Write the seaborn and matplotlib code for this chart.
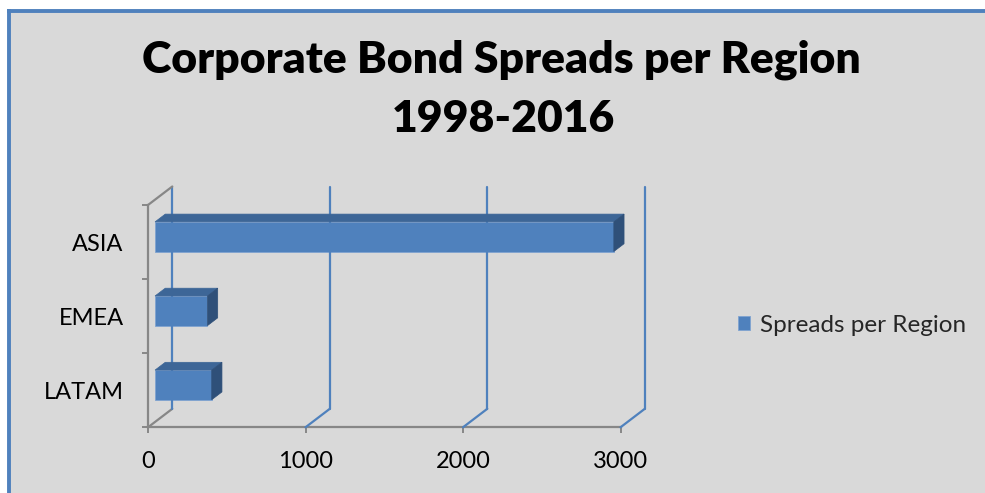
import numpy as np
import pandas as pd
import seaborn as sns
import matplotlib
matplotlib.use("Agg")
import matplotlib.pyplot as plt
from matplotlib.patches import Polygon
from matplotlib.lines import Line2D
from matplotlib.transforms import IdentityTransform, ScaledTranslation

# ---- data ----
regions = ["ASIA", "EMEA", "LATAM"]
spreads = [2913, 333, 360]
series_name = "Spreads per Region"
x_ticks = [0, 1000, 2000, 3000]
title_lines = ["Corporate Bond Spreads per Region", "1998-2016"]

# ---- style ----
BG = "#D9D9D9"
FRONT = "#4F81BD"
TOP = "#3D6697"
SIDE = "#2F5079"
GRID = "#4F81BD"
AXIS = "#878787"
FONT = ["Lato", "DejaVu Sans"]

sns.set_theme(style="white")
plt.rcParams["font.family"] = FONT

W, H, DPI = 985, 493, 100
fig = plt.figure(figsize=(W / DPI, H / DPI), dpi=DPI, facecolor="white")

# chart area background with blue border on the top and left
bg_ax = fig.add_axes([9 / W, 0, 1 - 9 / W, 1 - 10.5 / H])
bg_ax.set_facecolor(BG)
bg_ax.set_xticks([])
bg_ax.set_yticks([])
for s in ["right", "bottom"]:
    bg_ax.spines[s].set_visible(False)
for s in ["top", "left"]:
    bg_ax.spines[s].set_color(FRONT)
    bg_ax.spines[s].set_linewidth(2.8)
bg_ax.set_zorder(-10)

# front plane of the plot
ax_l, ax_r, ax_t, ax_b = 148, 620.5, 205, 427.3
ax = fig.add_axes([ax_l / W, (H - ax_b) / H, (ax_r - ax_l) / W, (ax_b - ax_t) / H])
ax.set_facecolor("none")

df = pd.DataFrame({"region": regions, "spread": spreads})
sns.barplot(data=df, x="spread", y="region", orient="h", width=0.4,
            color=FRONT, saturation=1, ax=ax, label=series_name, zorder=3)
ax.set_xlim(0, 3000)
ax.set_ylim(2.5, -0.5)
ax.set_xlabel("")
ax.set_ylabel("")

# depth of the 3D box in pixels (display coords, y up)
DX, DY = 24.3, 18.5
f0, f1 = 0.29, 0.71  # bar front/back depth fractions

def px(points):
    return ax.transData.transform(points)

fig.canvas.draw()
for bar in ax.patches:
    x0, y0 = bar.get_x(), bar.get_y()
    w, h = bar.get_width(), bar.get_height()
    (ax0, ay0), (ax1, ay1) = px([(x0, y0), (x0 + w, y0 + h)])
    top_y, bot_y = max(ay0, ay1), min(ay0, ay1)
    ox, oy = DX * f0, DY * f0
    bx, by = DX * (f1 - f0), DY * (f1 - f0)
    bar.set_transform(ax.transData + ScaledTranslation(ox / DPI, oy / DPI, fig.dpi_scale_trans))
    bar.set_edgecolor("#7FA3D0")
    bar.set_linewidth(0.6)
    L, R, T, B = ax0 + ox, ax1 + ox, top_y + oy, bot_y + oy
    fig.add_artist(Polygon([(L, T), (R, T), (R + bx, T + by), (L + bx, T + by)],
                           closed=True, transform=IdentityTransform(),
                           facecolor=TOP, edgecolor=TOP, linewidth=0.5, zorder=4))
    fig.add_artist(Polygon([(R, T), (R + bx, T + by), (R + bx, B + by), (R, B)],
                           closed=True, transform=IdentityTransform(),
                           facecolor=SIDE, edgecolor=SIDE, linewidth=0.5, zorder=4))

# back-plane gridlines & floor diagonals
(_, yb), (_, yt) = ax.transAxes.transform([(0, 0), (0, 1)])
for t in x_ticks:
    xt = px([(t, 0)])[0][0]
    col = AXIS if t == x_ticks[0] else GRID
    fig.add_artist(Line2D([xt, xt + DX], [yb, yb + DY], transform=IdentityTransform(),
                          color=col, lw=1.6, zorder=1))
    fig.add_artist(Line2D([xt + DX, xt + DX], [yb + DY, yt + DY], transform=IdentityTransform(),
                          color=GRID, lw=1.6, zorder=1))
x0d = px([(0, 0)])[0][0]
fig.add_artist(Line2D([x0d, x0d + DX], [yt, yt + DY], transform=IdentityTransform(),
                      color=AXIS, lw=1.6, zorder=1))

# axes spines & ticks
for s in ["top", "right"]:
    ax.spines[s].set_visible(False)
for s in ["left", "bottom"]:
    ax.spines[s].set_color(AXIS)
    ax.spines[s].set_linewidth(1.6)
ax.set_xticks(x_ticks)
ax.set_xticklabels([str(t) for t in x_ticks])
ax.set_yticks([-0.5, 0.5, 1.5, 2.5])
ax.set_yticklabels([])
ax.set_yticks(range(len(regions)), minor=True)
ax.set_yticklabels(regions, minor=True)
ax.tick_params(axis="x", which="major", direction="out", length=4.5, width=1.4,
               color=AXIS, labelsize=17, pad=12.5, bottom=True)
ax.tick_params(axis="y", which="major", direction="out", length=4.5, width=1.4,
               color=AXIS, left=True)
ax.tick_params(axis="y", which="minor", length=0, labelsize=17, pad=17.5)
for lbl in ax.get_xticklabels() + ax.get_yticklabels(minor=True):
    lbl.set_color("black")
    lbl.set_family(FONT)

# legend
leg = ax.legend(loc="center left", bbox_to_anchor=(738 / W, 1 - 325 / H),
                bbox_transform=fig.transFigure, frameon=False,
                fontsize=17.5, handlelength=0.5, handleheight=0.5,
                handletextpad=0.4, borderaxespad=0, borderpad=0)
for txt in leg.get_texts():
    txt.set_family(FONT)

# title (two centred lines, baselines)
fig.text(501 / W, 1 - 73 / H, title_lines[0], ha="center", va="baseline",
         fontsize=32, fontweight="heavy", family=FONT, color="black")
fig.text(503 / W, 1 - 132 / H, title_lines[1], ha="center", va="baseline",
         fontsize=32, fontweight="heavy", family=FONT, color="black")

fig.savefig("out.png", dpi=DPI, facecolor="white")
